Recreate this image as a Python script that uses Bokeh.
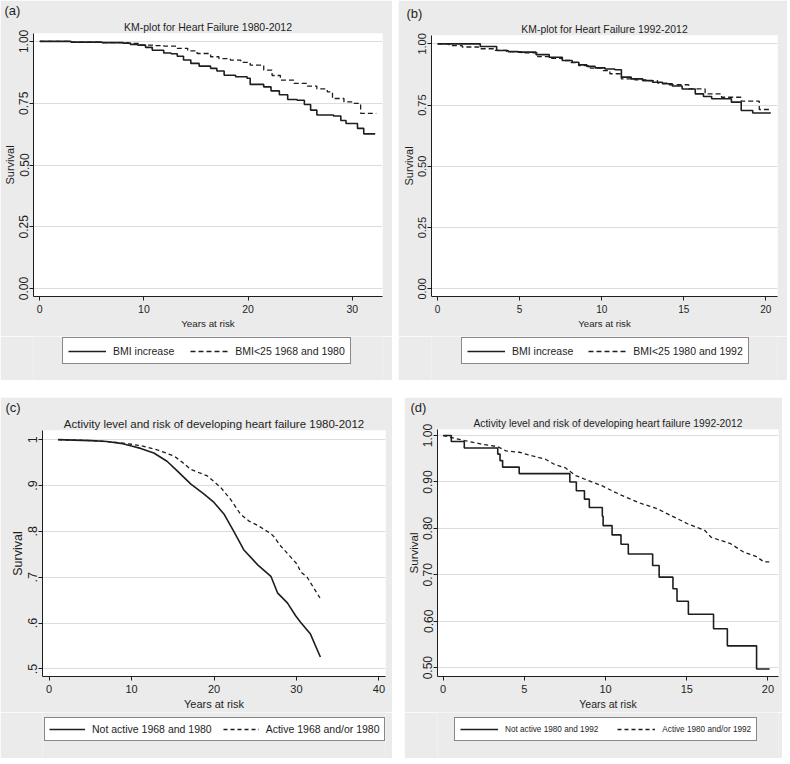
from bokeh.plotting import figure
from bokeh.models import Range1d, FixedTicker, Legend, LegendItem, Title
from bokeh.layouts import row, column
from bokeh.embed import file_html
from bokeh.resources import INLINE

FONT = "Liberation Sans"
BG = "#ebebeb"
INK = "#1e1e1e"

# ---------------- data ----------------
# (a) KM-plot for Heart Failure 1980-2012
a_t_bmi_increase = [0, 3, 6, 8.0, 8.7, 9.4, 10.15, 10.8, 11.9, 12.6, 13.2, 13.8, 14.5, 15.3, 16.4, 17.0,
                    17.7, 18.8, 19.9, 20.2, 21.5, 22.2, 23.0, 23.8, 24.7, 25.4, 26.0, 26.6, 28.2, 28.9,
                    29.4, 30.5, 31.1, 32.2]
a_s_bmi_increase = [1.0, 0.997, 0.995, 0.993, 0.988, 0.985, 0.976, 0.964, 0.953, 0.950, 0.940, 0.925,
                    0.911, 0.900, 0.891, 0.880, 0.863, 0.857, 0.851, 0.826, 0.816, 0.800, 0.784, 0.765,
                    0.762, 0.745, 0.722, 0.702, 0.698, 0.680, 0.668, 0.648, 0.626, 0.626]
a_t_bmi_low = [0, 3, 6, 8.5, 9.7, 11.0, 11.9, 13.2, 14.2, 15.1, 16.4, 17.2, 18.3, 19.3, 20.2, 21.5, 22.3,
               23.1, 24.4, 25.7, 26.6, 27.6, 28.1, 29.2, 30.2, 30.8, 32.3]
a_s_bmi_low = [1.0, 0.997, 0.995, 0.992, 0.985, 0.983, 0.981, 0.972, 0.962, 0.951, 0.938, 0.930, 0.924,
               0.915, 0.904, 0.884, 0.862, 0.843, 0.830, 0.819, 0.808, 0.796, 0.769, 0.755, 0.749, 0.709,
               0.709]
a_labels = ["BMI increase", "BMI<25 1968 and 1980"]

# (b) KM-plot for Heart Failure 1992-2012
b_t_bmi_increase = [0, 2.6, 3.6, 4.3, 4.9, 6.0, 6.8, 7.6, 8.2, 8.6, 9.1, 9.6, 10.2, 10.8, 11.2, 11.8, 12.5,
                    13.1, 13.7, 14.3, 14.9, 15.7, 16.2, 16.7, 17.9, 18.5, 19.2, 20.3]
b_s_bmi_increase = [1.0, 0.989, 0.973, 0.968, 0.966, 0.956, 0.945, 0.932, 0.925, 0.914, 0.908, 0.902,
                    0.897, 0.894, 0.864, 0.857, 0.850, 0.843, 0.837, 0.828, 0.816, 0.796, 0.785, 0.776,
                    0.762, 0.728, 0.718, 0.718]
b_t_bmi_low = [0, 0.7, 1.5, 2.5, 3.5, 4.2, 5.1, 6.1, 6.8, 7.6, 8.1, 8.6, 9.3, 10.0, 10.5, 11.2, 12.0, 12.7,
               13.4, 14.1, 15.3, 16.3, 17.3, 18.5, 19.6, 20.3]
b_s_bmi_low = [1.0, 0.993, 0.987, 0.980, 0.973, 0.968, 0.963, 0.948, 0.941, 0.932, 0.923, 0.911, 0.901,
               0.891, 0.878, 0.857, 0.853, 0.850, 0.840, 0.833, 0.816, 0.796, 0.782, 0.766, 0.732, 0.732]
b_labels = ["BMI increase", "BMI<25 1980 and 1992"]

# (c) Activity level and risk of developing heart failure 1980-2012
c_t_not_active = [1.1, 3, 5.1, 7, 8.7, 10, 11.1, 12.7, 14.3, 15.6, 17.2, 18.8, 20.0, 21.2, 22.4, 23.6,
                  25.3, 26.9, 27.7, 28.9, 29.9, 30.5, 31.7, 32.9]
c_s_not_active = [1.0, 0.999, 0.998, 0.996, 0.992, 0.986, 0.981, 0.971, 0.953, 0.931, 0.903, 0.881,
                  0.863, 0.838, 0.800, 0.760, 0.727, 0.702, 0.666, 0.644, 0.616, 0.602, 0.576, 0.526]
c_t_active = [1.1, 3, 5.1, 7, 8.7, 10, 11.1, 13.1, 15.2, 16.2, 17.2, 19.2, 20.8, 22.0, 23.2, 24.2, 25.3,
              26.9, 27.3, 28.0, 28.9, 30.1, 30.5, 31.3, 31.7, 32.85]
c_s_active = [1.0, 0.999, 0.998, 0.996, 0.993, 0.990, 0.987, 0.978, 0.964, 0.950, 0.935, 0.921, 0.896,
              0.870, 0.838, 0.823, 0.813, 0.795, 0.788, 0.770, 0.752, 0.728, 0.712, 0.700, 0.688, 0.655]
c_labels = ["Not active 1968 and 1980", "Active 1968 and/or 1980"]

# (d) Activity level and risk of developing heart failure 1992-2012
d_t_not_active = [0, 0.5, 1.3, 3.36, 3.5, 3.66, 4.68, 7.8, 8.2, 8.7, 9.0, 9.8, 9.85, 10.4, 10.95, 11.4,
                  12.9, 13.3, 14.15, 14.4, 15.1, 16.65, 17.5, 19.3, 20.1]
d_s_not_active = [1.0, 0.987, 0.973, 0.960, 0.946, 0.932, 0.918, 0.900, 0.881, 0.863, 0.845, 0.826,
                  0.806, 0.786, 0.766, 0.745, 0.720, 0.695, 0.670, 0.643, 0.615, 0.584, 0.547, 0.497,
                  0.497]
d_t_active = [0, 1.32, 2.44, 3.36, 3.87, 4.68, 5.5, 6.3, 6.9, 7.5, 8.14, 8.95, 9.77, 10.4, 11.0, 12.0,
              13.2, 14.0, 15.05, 16.1, 16.5, 17.7, 18.5, 19.3, 19.75, 20.25]
d_s_active = [1.0, 0.989, 0.981, 0.976, 0.967, 0.964, 0.956, 0.949, 0.937, 0.931, 0.914, 0.903, 0.892,
              0.881, 0.871, 0.856, 0.842, 0.828, 0.810, 0.796, 0.781, 0.767, 0.749, 0.739, 0.728, 0.728]
d_labels = ["Not active 1980 and 1992", "Active 1980 and/or 1992"]

# ticks
ticks_a_x = [0, 10, 20, 30]
ticks_b_x = [0, 5, 10, 15, 20]
ticks_c_x = [0, 10, 20, 30, 40]
ticks_d_x = [0, 5, 10, 15, 20]
ticks_ab_y = [0, 0.25, 0.5, 0.75, 1]
labels_ab_y = ["0.00", "0.25", "0.50", "0.75", "1.00"]
ticks_cd_y = [0.5, 0.6, 0.7, 0.8, 0.9, 1]
labels_c_y = [".5", ".6", ".7", ".8", ".9", "1"]
labels_d_y = ["0.50", "0.60", "0.70", "0.80", "0.90", "1.00"]


def draw_series(fig, series):
    out = []
    for (xs, ys, kind, dash, width_) in series:
        if kind == "step":
            rr = fig.step(x=xs, y=ys, mode="after", line_color=INK, line_width=width_, line_dash=dash)
        else:
            rr = fig.line(x=xs, y=ys, line_color=INK, line_width=width_, line_dash=dash)
        out.append(rr)
    return out


def make_panel(width, height, leg_height, borders, x_rng, y_rng, x_ticks, y_ticks, y_tick_labels,
               tag, tag_offset, title, fs, series, labels, leg):
    l, r, t, b = borders
    p = figure(width=width, height=height, output_backend="svg", toolbar_location=None, tools="",
               x_range=Range1d(*x_rng), y_range=Range1d(*y_rng),
               min_border_left=l, min_border_right=r, min_border_top=t, min_border_bottom=b)
    p.border_fill_color = BG
    p.background_fill_color = "white"
    p.outline_line_color = None

    # panel tag, outermost title row
    p.title.text = tag
    p.title.align = "left"
    p.title.offset = tag_offset
    p.title.text_font = FONT
    p.title.text_font_size = "13px"
    p.title.text_font_style = "normal"
    p.title.text_color = INK
    p.title.standoff = 0
    main = Title(text=title, align="center", text_font=FONT, text_font_size=fs["title"],
                 text_font_style="normal", text_color=INK, standoff=2)
    p.add_layout(main, "above")

    p.xgrid.visible = False
    p.ygrid.ticker = FixedTicker(ticks=y_ticks)
    p.ygrid.grid_line_color = "#dcdcdc"
    p.ygrid.grid_line_width = 1

    for ax in (p.xaxis[0], p.yaxis[0]):
        ax.axis_line_color = INK
        ax.axis_line_width = 1
        ax.major_tick_line_color = INK
        ax.major_tick_out = 4
        ax.major_tick_in = 0
        ax.minor_tick_line_color = None
        ax.major_label_text_color = INK
        ax.axis_label_text_color = INK
        ax.axis_label_text_font_style = "normal"
        ax.major_label_text_font = FONT
        ax.axis_label_text_font = FONT

    xa = p.xaxis[0]
    xa.ticker = FixedTicker(ticks=x_ticks)
    xa.major_label_text_font_size = fs["xtick"]
    xa.major_label_standoff = 4
    xa.axis_label = "Years at risk"
    xa.axis_label_text_font_size = fs["xlabel"]
    xa.axis_label_standoff = 2

    ya = p.yaxis[0]
    ya.ticker = FixedTicker(ticks=y_ticks)
    ya.major_label_overrides = {tk: lb for tk, lb in zip(y_ticks, y_tick_labels)}
    ya.major_label_orientation = "vertical"
    ya.major_label_text_font_size = fs["ytick"]
    ya.major_label_standoff = 1
    ya.axis_label = "Survival"
    ya.axis_label_text_font_size = fs["ylabel"]
    ya.axis_label_standoff = 1

    draw_series(p, series)

    # legend strip below the plot (same grey panel); the key lines reuse the series but lie
    # outside this strip's ranges, so only their legend samples show
    lf = figure(width=width, height=leg_height, output_backend="svg", toolbar_location=None, tools="",
                x_range=Range1d(-3, -2), y_range=Range1d(0, 1), x_axis_type=None, y_axis_type=None,
                min_border_left=0, min_border_right=0, min_border_top=0, min_border_bottom=0)
    lf.border_fill_color = BG
    lf.background_fill_color = BG
    lf.outline_line_color = None
    keys = draw_series(lf, series)
    legend = Legend(items=[LegendItem(label=lab, renderers=[rr]) for lab, rr in zip(labels, keys)],
                    orientation="horizontal", location=leg["loc"])
    legend.border_line_color = "#111111"
    legend.border_line_width = 1
    legend.background_fill_color = "white"
    legend.background_fill_alpha = 1
    legend.label_text_font = FONT
    legend.label_text_font_size = fs["legend"]
    legend.label_text_color = INK
    legend.glyph_width = leg["glyph"]
    legend.glyph_height = 12
    legend.label_height = leg["lh"]
    legend.label_standoff = leg["standoff"]
    legend.spacing = leg["spacing"]
    legend.padding = leg["padding"]
    legend.margin = 0
    lf.add_layout(legend)
    return column(p, lf, spacing=0)


pa = make_panel(392, 336, 44, (33, 10, 33, 40), (-0.6, 32.9), (-0.032, 1.032), ticks_a_x, ticks_ab_y,
                labels_ab_y, "(a)", -29, "KM-plot for Heart Failure 1980-2012",
                dict(title="10.5px", xtick="10.5px", xlabel="9.8px", ytick="12px", ylabel="11px",
                     legend="10.5px"),
                [(a_t_bmi_increase, a_s_bmi_increase, "step", "solid", 1.6),
                 (a_t_bmi_low, a_s_bmi_low, "step", "5 3", 1.3)],
                a_labels, dict(glyph=38, standoff=7, spacing=16, padding=5, lh=15, loc=(29, 16)))

pb = make_panel(389, 336, 44, (33, 10, 35, 40), (-0.37, 20.71), (-0.031, 1.034), ticks_b_x, ticks_ab_y,
                labels_ab_y, "(b)", -25, "KM-plot for Heart Failure 1992-2012",
                dict(title="10.4px", xtick="10px", xlabel="9.6px", ytick="11px", ylabel="11px",
                     legend="10.5px"),
                [(b_t_bmi_increase, b_s_bmi_increase, "step", "solid", 1.6),
                 (b_t_bmi_low, b_s_bmi_low, "step", "5 3", 1.3)],
                b_labels, dict(glyph=38, standoff=7, spacing=15, padding=5, lh=15, loc=(30, 16)))

pc = make_panel(392, 315, 46, (42, 7, 30, 35), (-0.8, 40.8), (0.4835, 1.02), ticks_c_x, ticks_cd_y,
                labels_c_y, "(c)", -37, "Activity level and risk of developing heart failure 1980-2012",
                dict(title="11.5px", xtick="11px", xlabel="11px", ytick="12.5px", ylabel="12.5px",
                     legend="10.5px"),
                [(c_t_not_active, c_s_not_active, "line", "solid", 1.6),
                 (c_t_active, c_s_active, "line", "4 3", 1.3)],
                c_labels, dict(glyph=36, standoff=7, spacing=11, padding=4, lh=14, loc=(2, 17)))

pd_ = make_panel(378, 315, 46, (30, 4, 32, 35), (-0.35, 20.65), (0.481, 1.013), ticks_d_x, ticks_cd_y,
                 labels_d_y, "(d)", -27, "Activity level and risk of developing heart failure 1992-2012",
                 dict(title="10.3px", xtick="11px", xlabel="10.5px", ytick="12px", ylabel="11.5px",
                      legend="8.2px"),
                 [(d_t_not_active, d_s_not_active, "step", "solid", 1.6),
                  (d_t_active, d_s_active, "line", "4 3", 1.3)],
                 d_labels, dict(glyph=38, standoff=7, spacing=19, padding=5, lh=12, loc=(17, 17)))

layout = column(row(pa, pb, spacing=6), row(pc, pd_, spacing=12), spacing=17)

open("out.html", "w").write(file_html(layout, INLINE))
